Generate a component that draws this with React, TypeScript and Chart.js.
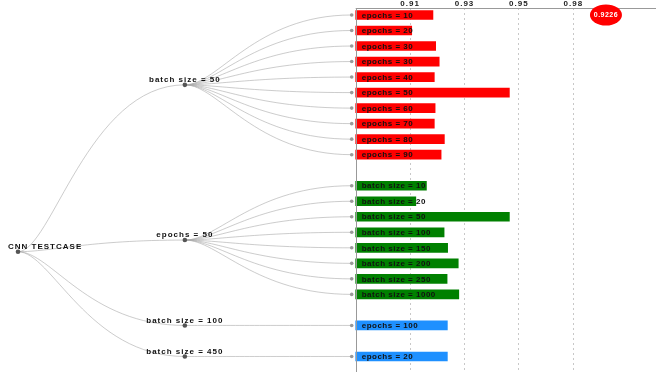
import React, { useEffect, useRef } from "react";
import { Chart, registerables } from "chart.js";
Chart.register(...registerables);

// ---------- data ----------
const rootLabel = "CNN TESTCASE";
const groupLabels = ["batch size = 50", "epochs = 50", "batch size = 100", "batch size = 450"];
const groupColors = ["#ff0000", "#008000", "#1e90ff", "#1e90ff"];

const groupALeaves = ["epochs = 10", "epochs = 20", "epochs = 30", "epochs = 30", "epochs = 40", "epochs = 50", "epochs = 60", "epochs = 70", "epochs = 80", "epochs = 90"];
const groupAValues = [0.9184, 0.9106, 0.9194, 0.9207, 0.9189, 0.9465, 0.9192, 0.9189, 0.9226, 0.9214];

const groupBLeaves = ["batch size = 10", "batch size = 20", "batch size = 50", "batch size = 100", "batch size = 150", "batch size = 200", "batch size = 250", "batch size = 1000"];
const groupBValues = [0.916, 0.9121, 0.9465, 0.9225, 0.9238, 0.9277, 0.9236, 0.9279];

const groupCLeaves = ["epochs = 100"];
const groupCValues = [0.9237];

const groupDLeaves = ["epochs = 20"];
const groupDValues = [0.9237];

const tickValues = [0.91, 0.93, 0.95, 0.97];
const tickLabels = ["0.91", "0.93", "0.95", "0.98"];
const baseValue = 0.89;

const highlightLabel = "0.9226";
const highlightValue = 0.982;

// ---------- layout of the tree (rows / depths) ----------
const groupLeaves = [groupALeaves, groupBLeaves, groupCLeaves, groupDLeaves];
const groupValues = [groupAValues, groupBValues, groupCValues, groupDValues];

type Leaf = { label: string; value: number; row: number; group: number };
const leaves: Leaf[] = [];
const groupRows: number[] = [];
{
  let cursor = 0;
  groupLeaves.forEach((ls, g) => {
    const rows: number[] = [];
    ls.forEach((l, i) => {
      leaves.push({ label: l, value: groupValues[g][i], row: cursor, group: g });
      rows.push(cursor);
      cursor++;
    });
    groupRows.push(rows.reduce((a, b) => a + b, 0) / rows.length);
    cursor++; // gap between groups
  });
}
const rootRow = groupRows.reduce((a, b) => a + b, 0) / groupRows.length;

const FONT = "'Liberation Sans', Arial, sans-serif";

function link(ctx: CanvasRenderingContext2D, x0: number, y0: number, x1: number, y1: number) {
  const dx = x1 - x0;
  ctx.beginPath();
  ctx.moveTo(x0, y0);
  ctx.bezierCurveTo(x0 + 0.2 * dx, y0, x0 + 0.42 * dx, y1, x1, y1);
  ctx.stroke();
}

const treePlugin = {
  id: "treePlugin",
  beforeDraw(chart: any) {
    (chart.ctx as any).letterSpacing = "1px";
  },
  beforeDatasetsDraw(chart: any) {
    const ctx: CanvasRenderingContext2D = chart.ctx;
    const xt = chart.scales.xt;
    const y = chart.scales.y;
    ctx.save();
    ctx.strokeStyle = "rgba(170,170,170,0.75)";
    ctx.lineWidth = 0.8;
    const rx = xt.getPixelForValue(0);
    const ry = y.getPixelForValue(rootRow);
    groupRows.forEach((gr, g) => {
      const gx = xt.getPixelForValue(1);
      const gy = y.getPixelForValue(gr);
      link(ctx, rx, ry, gx, gy);
      leaves
        .filter((l) => l.group === g)
        .forEach((l) => {
          link(ctx, gx, gy, xt.getPixelForValue(2), y.getPixelForValue(l.row));
        });
    });
    ctx.restore();
  },
  afterDatasetsDraw(chart: any) {
    const ctx: any = chart.ctx;
    const x = chart.scales.x;
    const xt = chart.scales.xt;
    const y = chart.scales.y;
    const area = chart.chartArea;
    const x0 = x.getPixelForValue(baseValue);
    ctx.save();
    // axis lines
    ctx.strokeStyle = "#999";
    ctx.lineWidth = 1;
    ctx.beginPath();
    ctx.moveTo(Math.round(x0) + 0.5, area.top);
    ctx.lineTo(Math.round(x0) + 0.5, area.bottom);
    ctx.moveTo(x0, Math.round(area.top) + 0.5);
    ctx.lineTo(area.right - 14, Math.round(area.top) + 0.5);
    ctx.stroke();

    // bar labels
    ctx.fillStyle = "#111";
    ctx.font = `bold 8px ${FONT}`;
    ctx.letterSpacing = "0.5px";
    ctx.textBaseline = "middle";
    ctx.textAlign = "left";
    leaves.forEach((l) => {
      ctx.fillText(l.label, x0 + 6, y.getPixelForValue(l.row) + 0.5);
    });

    // node labels
    ctx.letterSpacing = "1px";
    ctx.textAlign = "center";
    groupRows.forEach((gr, g) => {
      ctx.fillText(groupLabels[g], xt.getPixelForValue(1), y.getPixelForValue(gr) - 5);
    });
    ctx.textAlign = "left";
    ctx.fillText(rootLabel, xt.getPixelForValue(0) - 10, y.getPixelForValue(rootRow) - 5);

    // highlight bubble
    const cx = x.getPixelForValue(highlightValue);
    const cy = y.getPixelForValue(0);
    ctx.fillStyle = "#ff0000";
    ctx.beginPath();
    ctx.ellipse(cx, cy, 16, 10.5, 0, 0, Math.PI * 2);
    ctx.fill();
    ctx.fillStyle = "#fff";
    ctx.font = `bold 7px ${FONT}`;
    ctx.letterSpacing = "0.5px";
    ctx.textAlign = "center";
    ctx.fillText(highlightLabel, cx, cy + 0.5);
    ctx.restore();
  },
  afterDraw(chart: any) {
    (chart.ctx as any).letterSpacing = "0px";
  },
};

export default function App() {
  const ref = useRef<HTMLCanvasElement | null>(null);
  useEffect(() => {
    document.body.style.margin = "0";
    const canvas = ref.current!;
    const barDatasets = groupLeaves.map((_, g) => ({
      type: "bar" as const,
      indexAxis: "y" as const,
      xAxisID: "x",
      yAxisID: "y",
      grouped: false,
      barThickness: 9,
      backgroundColor: groupColors[g],
      borderWidth: 0,
      data: leaves.filter((l) => l.group === g).map((l) => ({ x: [baseValue, l.value], y: l.row })),
    }));
    const nodePoints = [
      { x: 0, y: rootRow, r: 2.3, c: "#555" },
      ...groupRows.map((gr) => ({ x: 1, y: gr, r: 2.3, c: "#555" })),
      ...leaves.map((l) => ({ x: 2, y: l.row, r: 1.8, c: "#999" })),
    ];
    const chart = new Chart(canvas, {
      type: "bar",
      data: {
        datasets: [
          ...barDatasets,
          {
            type: "scatter" as const,
            xAxisID: "xt",
            yAxisID: "y",
            data: nodePoints.map((p) => ({ x: p.x, y: p.y })),
            pointRadius: nodePoints.map((p) => p.r),
            pointBackgroundColor: nodePoints.map((p) => p.c),
            pointBorderWidth: 0,
          } as any,
        ],
      },
      options: {
        animation: false,
        responsive: false,
        devicePixelRatio: 1,
        events: [],
        layout: { autoPadding: false, padding: { top: 0, bottom: 5, left: 0, right: 0 } },
        plugins: { legend: { display: false }, tooltip: { enabled: false } },
        scales: {
          x: {
            type: "linear",
            position: "top",
            offset: false,
            beginAtZero: false,
            min: 0.75923,
            max: 1.00555,
            afterBuildTicks: (s: any) => {
              s.ticks = tickValues.map((v) => ({ value: v }));
            },
            ticks: {
              padding: 0,
              color: "#222",
              font: { family: FONT, size: 8, weight: "bold", lineHeight: 1 },
              callback: (_v: any, i: number) => tickLabels[i],
            },
            grid: { color: "#c8c8c8", lineWidth: 1, drawTicks: false, offset: false },
            border: { display: false, dash: [2, 3] },
          },
          xt: {
            type: "linear",
            display: false,
            offset: false,
            beginAtZero: false,
            grid: { offset: false },
            min: -0.1079,
            max: 3.9077,
          },
          y: {
            type: "linear",
            display: false,
            offset: false,
            beginAtZero: false,
            grid: { offset: false },
            reverse: true,
            min: -0.45,
            max: 23,
          },
        },
      } as any,
      plugins: [treePlugin],
    });
    return () => chart.destroy();
  }, []);
  return (
    <div style={{ width: 670, height: 377 }}>
      <canvas ref={ref} width={670} height={377} />
    </div>
  );
}
